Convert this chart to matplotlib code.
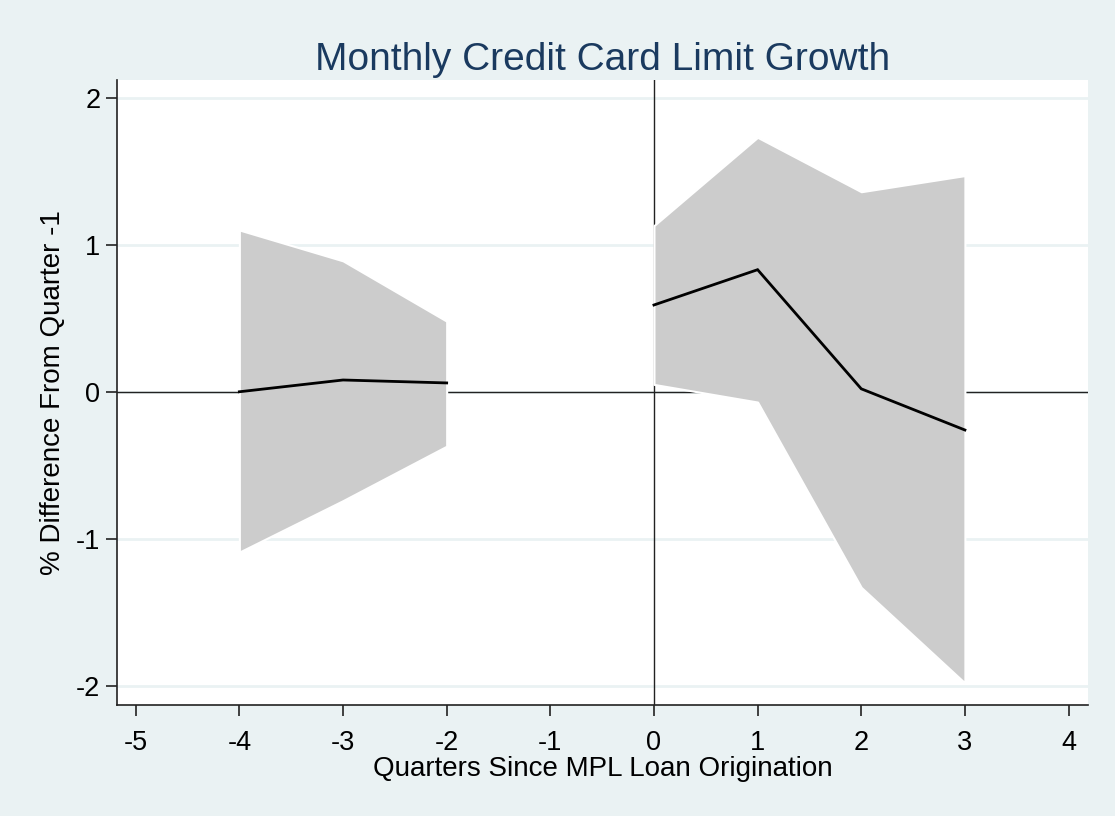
import numpy as np
import matplotlib
matplotlib.use("Agg")
import matplotlib.pyplot as plt

plt.rcParams['font.family'] = ['Liberation Sans', 'DejaVu Sans']

# Data (x = -1 is the omitted reference quarter)
quarters = [-4, -3, -2, -1, 0, 1, 2, 3]
estimate = [0.00, 0.08, 0.06, np.nan, 0.59, 0.83, 0.02, -0.26]
ci_upper = [1.10, 0.89, 0.48, np.nan, 1.13, 1.73, 1.36, 1.47]
ci_lower = [-1.09, -0.74, -0.37, np.nan, 0.05, -0.07, -1.33, -1.98]

xticks = [-5, -4, -3, -2, -1, 0, 1, 2, 3, 4]
yticks = [-2, -1, 0, 1, 2]

title = "Monthly Credit Card Limit Growth"
xlabel = "Quarters Since MPL Loan Origination"
ylabel = "% Difference From Quarter -1"

bg = '#EAF2F3'
navy = '#1A3A5F'

fig = plt.figure(figsize=(11.15, 8.16), dpi=100, facecolor=bg)
ax = fig.add_axes([0.105, 0.136, 0.871, 0.766])
ax.set_facecolor('white')

x = np.array(quarters, dtype=float)
est = np.array(estimate, dtype=float)
up = np.array(ci_upper, dtype=float)
lo = np.array(ci_lower, dtype=float)

# gridlines
for yt in yticks:
    ax.axhline(yt, color=bg, lw=2.0, zorder=0.5)

# reference lines
ax.axhline(0, color='#222222', lw=1.0, zorder=1)
ax.axvline(0, color='#222222', lw=1.0, zorder=1)

# confidence band (split around the missing reference quarter)
mask = ~np.isnan(est)
segments = []
cur = []
for i in range(len(x)):
    if mask[i]:
        cur.append(i)
    else:
        if cur:
            segments.append(cur)
        cur = []
if cur:
    segments.append(cur)

for seg in segments:
    ax.fill_between(x[seg], lo[seg], up[seg], facecolor='#CCCCCC',
                    edgecolor='white', linewidth=1.5, zorder=2)
    ax.plot(x[seg], est[seg], color='black', lw=2.0, zorder=3,
            solid_joinstyle='miter')

ax.set_xlim(-5.18, 4.19)
ax.set_ylim(-2.13, 2.12)
ax.set_xticks(xticks)
ax.set_yticks(yticks)
ax.set_xticklabels([str(t) for t in xticks])
ax.set_yticklabels([str(t) for t in yticks])

for s in ['top', 'right']:
    ax.spines[s].set_visible(False)
for s in ['left', 'bottom']:
    ax.spines[s].set_color('#222222')
    ax.spines[s].set_linewidth(1.2)

ax.tick_params(axis='both', direction='out', length=8, width=1.2,
               color='#222222', labelsize=19.5, labelcolor='black')
ax.tick_params(axis='x', pad=10)
ax.tick_params(axis='y', pad=4)

ax.set_xlabel(xlabel, fontsize=20, color='black', labelpad=0)
ax.set_ylabel(ylabel, fontsize=20, color='black', labelpad=7)
fig.text(0.54, 0.927, title, fontsize=28, color=navy, ha='center', va='center')

fig.savefig('out.png', dpi=100, facecolor=bg)
